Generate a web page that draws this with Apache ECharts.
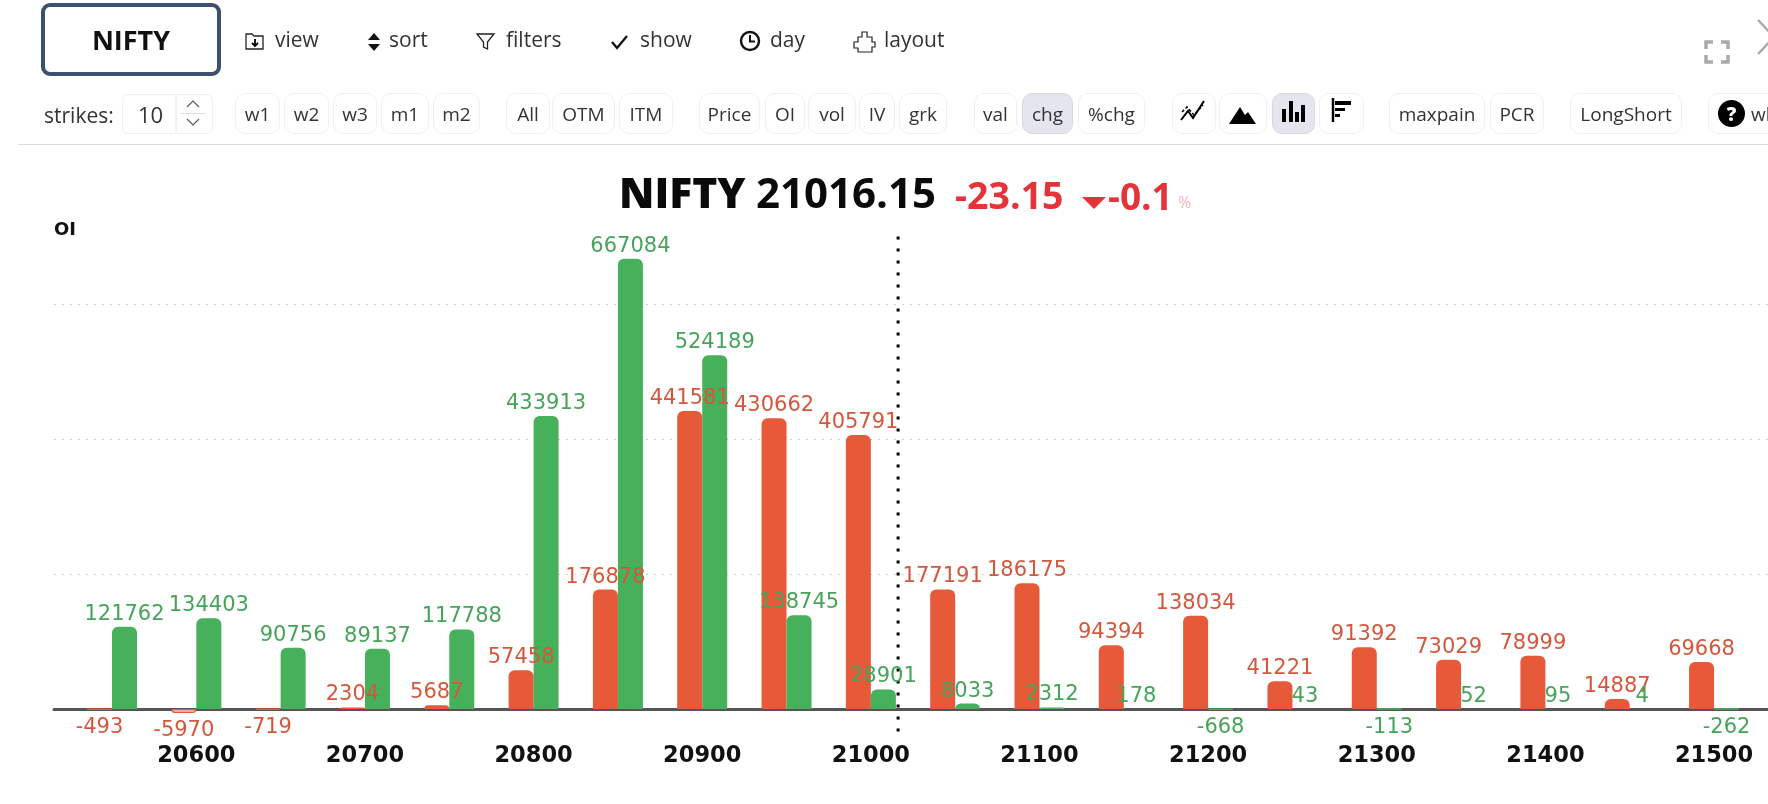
<!DOCTYPE html>
<html><head><meta charset="utf-8">
<script src="https://cdn.jsdelivr.net/npm/echarts@6/dist/echarts.min.js"></script>
<style>
html,body{margin:0;padding:0;background:#fff;overflow:hidden;width:1768px;height:804px;font-family:"Open Sans",sans-serif;color:#222}
#chart{position:absolute;left:0;top:0;width:1768px;height:804px}
.t{position:absolute;white-space:nowrap;line-height:1;z-index:3}
.btn{position:absolute;top:93px;height:39px;border:1px solid #f0f0f2;border-radius:10px;display:flex;align-items:center;justify-content:center;font-size:19px;color:#333;box-sizing:content-box;background:#fff;z-index:3;overflow:hidden}
.btn.on{background:#e4e5ee;border-color:#d6d7e2}
svg.i{position:absolute;z-index:3;overflow:visible}
</style></head><body>
<div id="chart"></div>
<div id="ui"></div>
<script>
// ---- chart data ----
const strikes = [20550,20600,20650,20700,20750,20800,20850,20900,20950,21000,21050,21100,21150,21200,21250,21300,21350,21400,21450,21500];
const redValues = [-493,-5970,-719,2304,5687,57458,176878,441581,430662,405791,177191,186175,94394,138034,41221,91392,73029,78999,14887,69668];
const greenValues = [121762,134403,90756,89137,117788,433913,667084,524189,138745,28901,8033,2312,178,-668,43,-113,52,95,4,-262];
const tickLabels = [20600,20700,20800,20900,21000,21100,21200,21300,21400,21500];
const spotPrice = 21016.15;
const spotLineRange = [700000,-46000];
const axisName = 'OI';
const RED='#E75A39', GREEN='#46B05A', REDT='#D4573D', GREENT='#46A45A';

function makeSeries(name, values, color, textColor){
  return {
    name, type:'bar', barWidth:25, barGap:'0%',
    data: strikes.map((s,i)=>{
      const v=values[i], neg=v<0;
      return {
        value:[s,v],
        itemStyle: neg ? {color:'#fff',borderColor:color,borderWidth:1.5,borderRadius:[0,0,5,5]}
                       : {color,borderRadius:[6,6,0,0]},
        label:{position:neg?'bottom':'top',distance:neg?7:2}
      };
    }),
    label:{show:true,fontFamily:'DejaVu Sans',fontSize:21,color:textColor,formatter:p=>String(p.value[1])},
    labelLayout:{hideOverlap:false},
    silent:true
  };
}
const series=[makeSeries('red',redValues,RED,REDT),makeSeries('green',greenValues,GREEN,GREENT),
 {name:'spot',type:'line',silent:true,symbol:'none',z:1,
  data:spotLineRange.map(v=>[spotPrice,v]),
  lineStyle:{color:'#000',width:3,type:[3,9],cap:'butt'}}];

const chart=echarts.init(document.getElementById('chart'),null,{renderer:'canvas'});
chart.setOption({
  animation:false,backgroundColor:'#fff',
  grid:{left:54,top:169,width:1714,height:675,containLabel:false,outerBoundsMode:'none'},
  xAxis:{type:'value',min:20515.6,max:21532,position:'bottom',offset:-135,
    axisLine:{show:true,onZero:false,lineStyle:{color:'#555',width:3}},
    axisTick:{show:false},splitLine:{show:false},
    axisLabel:{customValues:tickLabels,margin:36,fontFamily:'DejaVu Sans',fontWeight:'bold',fontSize:22.5,color:'#111',formatter:v=>String(v)}},
  yAxis:{type:'value',min:-200000,max:800000,interval:200000,
    name:axisName,nameLocation:'end',nameGap:-70,
    nameTextStyle:{fontFamily:'DejaVu Sans',fontWeight:'bold',fontSize:18,color:'#111',align:'left'},
    axisLine:{show:false},axisTick:{show:false},axisLabel:{show:false},
    splitLine:{show:true,showMaxLine:false,lineStyle:{color:'#cfcfcf',width:1,type:[2,6]}}},
  series
});

// ---- page chrome around the chart ----
const ui=document.getElementById('ui');
function text(s,x,cy,size,weight,color,family){
  const e=document.createElement('div');e.className='t';e.textContent=s;
  e.style.cssText=`left:${x}px;top:${cy}px;transform:translateY(-50%);font-size:${size}px;font-weight:${weight||400};color:${color||'#333'};font-family:${family||'"Open Sans"'}`;
  ui.appendChild(e);return e;
}
function svg(x,y,w,h,inner,vb){
  const d=document.createElement('div');
  d.innerHTML=`<svg class="i" style="left:${x}px;top:${y}px" width="${w}" height="${h}" viewBox="${vb||`0 0 ${w} ${h}`}">${inner}</svg>`;
  ui.appendChild(d.firstChild);
}
// symbol box
const box=document.createElement('div');
box.style.cssText='position:absolute;left:41px;top:3px;width:172px;height:65px;border:4px solid #3f4f6e;border-radius:9px;display:flex;align-items:center;justify-content:center;font:700 27px "Open Sans";color:#111;z-index:3';
box.textContent='NIFTY';ui.appendChild(box);
// first row
text('view',275,39,21);text('sort',389,39,21);text('filters',506,39,21);text('show',640,39,21);text('day',770,39,21);text('layout',884,39,21);
svg(245,33,20,17,'<path d="M1 1h6l2 2h9v13H1z" fill="none" stroke="#222" stroke-width="1.3"/><path d="M10 6v7M7 10l3 3 3-3" fill="none" stroke="#000" stroke-width="1.8"/>');
svg(367,32,14,20,'<path d="M7 1l6 7H1zM7 19l6-7H1z" fill="#111"/>');
svg(476,32,20,19,'<path d="M1 2h17l-6.5 8v7l-4-2v-5z" fill="none" stroke="#222" stroke-width="1.3"/>');
svg(610,34,19,16,'<path d="M2 8l5 6L17 2" fill="none" stroke="#111" stroke-width="2.3"/>');
svg(739,30,22,22,'<circle cx="11" cy="11" r="9" fill="none" stroke="#111" stroke-width="2.4"/><path d="M11 5v6.500h5" fill="none" stroke="#111" stroke-width="2"/>');
svg(853,30,23,23,'<path d="M9 2h5v5h5v5h3v5h-3v5H5v-4H1v-6h4V7h4z" fill="none" stroke="#222" stroke-width="1.2"/>');
// stepper
text('strikes:',44,115,21);
const st=document.createElement('div');
st.style.cssText='position:absolute;left:122px;top:94px;width:89px;height:38px;border:1px solid #f0f0f2;border-radius:6px;z-index:3';
ui.appendChild(st);
text('10',138,114,22);
svg(176,95,35,37,'<path d="M0 0v37" stroke="#e4e4e4"/><path d="M4 18.500h26" stroke="#ddd"/><path d="M11 12l6-6 6 6M11 24l6 6 6-6" fill="none" stroke="#555" stroke-width="1.1"/>');
// buttons
const buttons=[['w1',235,280],['w2',284,329],['w3',333,377],['m1',381,429],['m2',433,480],['All',506,550],['OTM',552,615],['ITM',619,673],['Price',699,760],['OI',765,805],['vol',808,856],['IV',859,895],['grk',899,947],['val',974,1017],['chg',1022,1073,1],['%chg',1078,1145],['',1172,1216],['',1219,1267],['',1272,1315,1],['',1319,1364],['maxpain',1389,1485],['PCR',1490,1544],['LongShort',1570,1682]];
buttons.forEach(([s,a,b,on])=>{
  const e=document.createElement('div');e.className='btn'+(on?' on':'');e.textContent=s;
  e.style.left=a+'px';e.style.width=(b-a-2)+'px';ui.appendChild(e);
});
const w=document.createElement('div');w.className='btn';w.style.left='1708px';w.style.width='90px';w.style.justifyContent='flex-start';w.style.paddingLeft='0';
w.innerHTML='<span style="margin-left:9px;width:27px;height:27px;border-radius:50%;background:#000;color:#fff;font-weight:800;font-size:19px;display:inline-flex;align-items:center;justify-content:center;flex:none">?</span><span style="margin-left:6px">what</span>';
ui.appendChild(w);
// chart-type icons
svg(1180,100,25,22,'<path d="M1 20L8 11l5 7L24 1" fill="none" stroke="#000" stroke-width="2"/><path d="M2 12l5-5 7 8 9-10" fill="none" stroke="#000" stroke-width="1.6" stroke-dasharray="3 2"/>');
svg(1229,106,27,18,'<path d="M0 18L11 1l5 8 3-3 8 12z" fill="#000"/>');
svg(1281,100,25,22,'<path d="M1 9h4v13H1zM8 1h4v21H8zM14 12h4v10h-4zM20 5h4v17h-4z" fill="#000"/>');
svg(1332,98,21,24,'<path d="M1 0v24" stroke="#000" stroke-width="2.500"/><path d="M3 3h16v4H3zM3 10h10v3H3zM3 16h5v3H3z" fill="#000"/>');
// divider
const hr=document.createElement('div');hr.style.cssText='position:absolute;left:18px;right:0;top:144px;height:1px;background:#dcdcdc;z-index:3';ui.appendChild(hr);
// top-right
svg(1704,40,26,24,'<path d="M2 9V2h7M17 2h7v7M24 15v7h-7M9 22H2v-7" fill="none" stroke="#aaa" stroke-width="3.500"/>');
svg(1757,19,20,36,'<path d="M1 1l16 17L1 35" fill="none" stroke="#aaa" stroke-width="2.500"/>');
// headline
text('NIFTY',619,192,42.5,800,'#0a0a0a');
text('21016.15',756,192,42,700,'#0a0a0a');
text('-23.15',955,195,37.5,700,'#E5333A');
svg(1082,197,24,12,'<path d="M0 0h24L12 12z" fill="#E5333A"/>');
text('-0.1',1108,195,37,700,'#E5333A');
text('%',1178,202,16,400,'#f4b7ba');
</script></body></html>
